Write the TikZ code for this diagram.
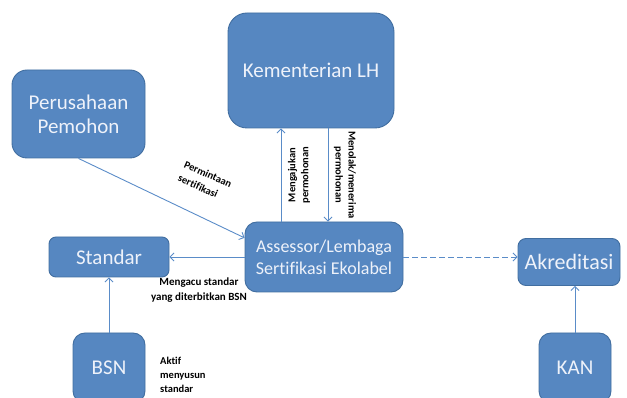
\documentclass[tikz,border=0pt]{standalone}
\usepackage{fontspec}
\setmainfont{Carlito}[Ligatures={NoCommon}]
\usetikzlibrary{arrows.meta,calc}
\definecolor{boxfill}{RGB}{86,135,193}
\definecolor{boxline}{RGB}{65,110,160}
\definecolor{arrowc}{RGB}{90,140,200}
\definecolor{boxtext}{RGB}{238,242,250}
\tikzset{
  boxst/.style={draw=boxline, line width=0.9pt, fill=boxfill, text=boxtext,
    font=\fontsize{21}{24}\selectfont, align=center, inner sep=0pt},
  arr/.style={draw=arrowc, line width=0.9pt, -{Straight Barb[length=4pt,width=8pt]}},
  lab/.style={font=\bfseries\fontsize{10.5}{14}\selectfont, align=center, inner sep=0pt, text=black},
}
\begin{document}
\begin{tikzpicture}[x=1pt,y=-1pt]
\useasboundingbox (0,0) rectangle (627,398);
\clip (0,0) rectangle (627,398);
% boxes
\node[boxst, minimum width=166pt, minimum height=115pt, rounded corners=19pt] (kem) at (311,70.5) {Kementerian LH};
\node[boxst, minimum width=133pt, minimum height=88pt, rounded corners=15pt] (per) at (78.5,114) {Perusahaan\\Pemohon};
\node[boxst, minimum width=120pt, minimum height=40pt, rounded corners=7pt] (std) at (109,257) {Standar};
\node[boxst, minimum width=158pt, minimum height=70pt, rounded corners=12pt, font=\fontsize{18}{22}\selectfont] (ass) at (324,257) {Assessor/Lembaga\\Sertifikasi Ekolabel};
\node[boxst, minimum width=102pt, minimum height=47pt, rounded corners=8pt, font=\fontsize{22}{24}\selectfont] (akr) at (569,262) {Akreditasi};
\node[boxst, minimum width=72pt, minimum height=70pt, rounded corners=12pt] (bsn) at (109,368) {BSN};
\node[boxst, minimum width=72pt, minimum height=70pt, rounded corners=12pt] (kan) at (575,368) {KAN};
% helper coordinates
\coordinate (upx) at (281,0);
\coordinate (dnx) at (328,0);
\coordinate (assin) at ($(ass.north west)!0.23!(ass.south west)$);
% connectors
\draw[arr] (per.south) -- (assin);
\draw[arr] (upx |- ass.north) -- (upx |- kem.south);
\draw[arr] (dnx |- kem.south) -- (dnx |- ass.north);
\draw[arr] (ass.west) -- (ass.west -| std.east);
\draw[arr, dash pattern=on 6pt off 3pt] (ass.east) -- (ass.east -| akr.west);
\draw[arr] (bsn.north) -- (std.south);
\draw[arr] (kan.north) -- (kan.north |- akr.south);
% labels
\node[lab, rotate=-24, align=left, font=\bfseries\fontsize{10.5}{15}\selectfont] (l1) at (205,181) {Permintaan\\sertifikasi};
\node[lab, rotate=90, font=\bfseries\fontsize{10.5}{13}\selectfont] (l2) at (299,175) {Mengajukan\\permohonan};
\node[lab, rotate=-90, font=\bfseries\fontsize{10.5}{13}\selectfont] (l3) at (345,175) {Menolak/menerima\\permohonan};
\node[lab, font=\bfseries\fontsize{11}{15}\selectfont] (l4) at (199,290) {Mengacu standar\\yang diterbitkan BSN};
\node[lab, align=left, anchor=west] (l5) at (160,375) {Aktif\\menyusun\\standar};
\end{tikzpicture}
\end{document}
